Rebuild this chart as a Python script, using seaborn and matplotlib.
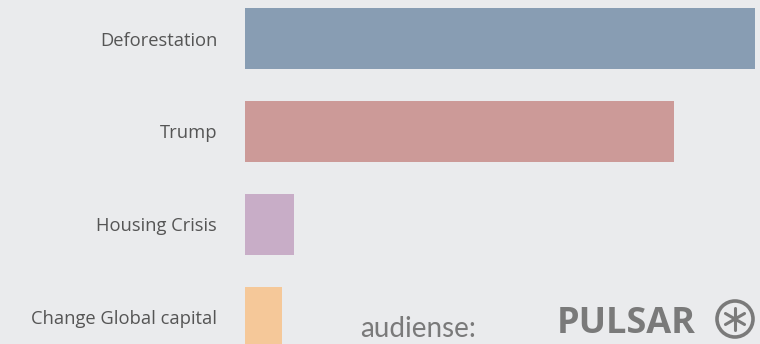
import matplotlib
matplotlib.use("Agg")
import matplotlib.pyplot as plt
from matplotlib.patches import Ellipse
import seaborn as sns
import pandas as pd
import numpy as np

categories = ["Deforestation", "Trump", "Housing Crisis", "Change Global capital"]
values = [510, 429, 49, 37]
colors = ["#889db3", "#cc9a98", "#c8adc7", "#f5c899"]

df = pd.DataFrame({"topic": categories, "value": values})

sns.set_theme(style="white")
bg = "#eaebed"
plt.rcParams["font.family"] = ["Open Sans", "DejaVu Sans"]

W, H = 760, 344
fig = plt.figure(figsize=(7.6, 3.44), dpi=100, facecolor=bg)
ax = fig.add_axes([245 / W, 0, 515 / W, 1])
ax.set_facecolor(bg)
sns.barplot(data=df, y="topic", x="value", hue="topic", palette=colors,
            orient="h", width=0.656, legend=False, ax=ax, saturation=1,
            linewidth=0, edgecolor="none")
ax.set_xlim(0, 515)
ax.set_ylim(3.285, -0.414)
ax.set_xlabel("")
ax.set_ylabel("")
ax.set_xticks([])
for s in ax.spines.values():
    s.set_visible(False)
ax.tick_params(axis="y", length=0, pad=20, labelsize=13.2, labelcolor="#555555")

# watermark logos
logo = "#7a7a7a"
fig.text(360 / W, 1 - 342 / H, "audiense:", fontsize=20, color=logo,
         family="Lato", ha="left", va="bottom")
fig.text(557 / W, 1 - 342 / H, "PULSAR", fontsize=26, color=logo,
         fontweight="bold", ha="left", va="bottom")
cx, cy, r = 735, 319, 18
fig.add_artist(Ellipse((cx / W, 1 - cy / H), 2 * r / W, 2 * r / H,
                       transform=fig.transFigure, fill=False, ec=logo, lw=2.6))
for ang in np.deg2rad([90, 30, -30]):
    dx, dy = 11 * np.cos(ang), 11 * np.sin(ang)
    fig.add_artist(plt.Line2D([(cx - dx) / W, (cx + dx) / W],
                              [1 - (cy - dy) / H, 1 - (cy + dy) / H],
                              transform=fig.transFigure, color=logo, lw=2.2))

fig.savefig("out.png", dpi=100, facecolor=bg)
